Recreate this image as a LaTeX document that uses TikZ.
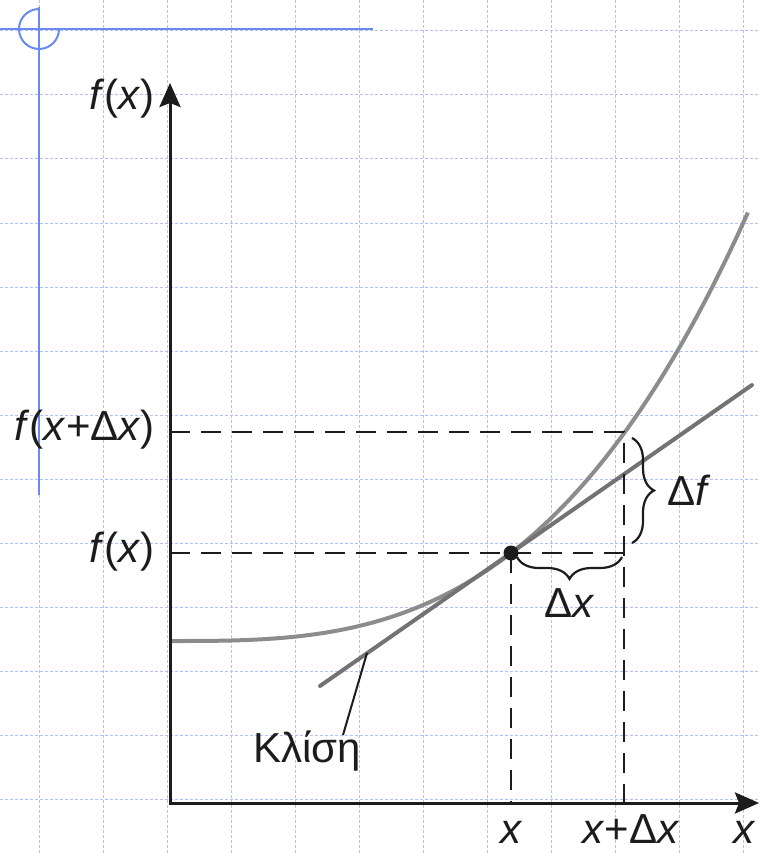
\documentclass[tikz,border=0pt]{standalone}
\usepackage{fontspec}
\setmainfont{Liberation Sans}
\usetikzlibrary{arrows.meta,decorations.pathreplacing}
\definecolor{gridc}{RGB}{178,192,248}
\definecolor{bluec}{RGB}{105,138,240}
\definecolor{axisc}{RGB}{28,28,28}
\definecolor{curvec}{RGB}{140,140,140}
\definecolor{tanc}{RGB}{115,115,115}
\newcommand{\vx}{\textit{x}}
\newcommand{\vf}{\textit{f}}
\begin{document}
\begin{tikzpicture}[x=1pt,y=-1pt,
  gridline/.style={gridc, line width=1pt, dash pattern=on 3pt off 2pt},
  blueline/.style={bluec, line width=2pt},
  axisline/.style={axisc, line width=3pt, {Stealth[length=24pt,width=21pt,inset=4pt]}-{Stealth[length=24pt,width=21pt,inset=4pt]}},
  guide/.style={axisc, line width=2.8pt, dash pattern=on 20pt off 11pt},
  curveline/.style={curvec, line width=4pt},
  tanline/.style={tanc, line width=4pt, line cap=round},
  leader/.style={axisc, line width=2pt},
  bracestyle/.style={axisc, line width=2.2pt, decorate, decoration={brace, amplitude=22pt}},
  lbl/.style={font=\fontsize{42}{50}\selectfont, text=axisc, inner sep=0pt}]
\useasboundingbox (0,0) rectangle (759,853);
% background grid
\foreach \i in {0,...,11} \draw[gridline] ({39+64*\i},0) -- ({39+64*\i},853);
\foreach \j in {0,...,12} \draw[gridline] (0,{31+64*\j}) -- (759,{31+64*\j});
% blue marks
\coordinate (bh1) at (0,29);
\coordinate (bh2) at (373,29);
\coordinate (bv1) at (39,7);
\coordinate (bv2) at (39,495);
\coordinate (btop) at (39,9);
\draw[blueline] (bh1) -- (bh2);
\draw[blueline] (bv1) -- (bv2);
\draw[blueline] (btop) arc[start angle=90, end angle=360, radius=20pt];
% key points
\coordinate (O) at (170,803);
\coordinate (ytip) at (170,83);
\coordinate (xtip) at (759,803);
\coordinate (P) at (511,553);
\coordinate (Q) at (624,432);
\coordinate (PQ) at (624,553);
\coordinate (Px) at (511,803);
\coordinate (Qx) at (624,803);
\coordinate (Py) at (170,553);
\coordinate (Qy) at (170,432);
\coordinate (T1) at (320,686);
\coordinate (T2) at (752,385);
% curve and tangent
\draw[curveline] plot[domain=0:5.78, samples=80, smooth] ({170+100*\x},{641-2.22*\x*\x*\x});
\draw[tanline] (T1) -- (T2);
% dashed guides
\draw[guide] (Qy) -- (Q) -- (Qx);
\draw[guide] (Py) -- (PQ);
\draw[guide] (P) -- (Px);
% axes
\draw[axisline] (ytip) -- (O) -- (xtip);
% point
\node[circle, fill=axisc, inner sep=0pt, minimum size=15pt] (dot) at (P) {};
% braces
\coordinate (bf1) at (632,438);
\coordinate (bf2) at (632,543);
\draw[bracestyle] (bf1) -- (bf2);
\coordinate (bx1) at (622,557);
\coordinate (bx2) at (517,557);
\draw[bracestyle] (bx1) -- (bx2);
% labels
\node[lbl, anchor=base west] (fy) at (89,110) {\vf(\vx)};
\node[lbl, anchor=base east] (fq) at (155,440) {\vf(\vx+Δ\vx)};
\node[lbl, anchor=base east] (fp) at (155,562) {\vf(\vx)};
\node[lbl, anchor=base] (xp) at (512,843) {\vx};
\node[lbl, anchor=base] (xq) at (631,843) {\vx+Δ\vx};
\node[lbl, anchor=base] (xa) at (745,843) {\vx};
\node[lbl, anchor=base west] (df) at (667,505) {Δ\vf};
\node[lbl, anchor=base] (dx) at (570,617) {Δ\vx};
\node[lbl, anchor=base west] (klisi) at (253,762) {Κλίση};
% leader
\coordinate (lead) at (343,735);
\coordinate (tanpt) at (367,653);
\draw[leader] (lead) -- (tanpt);
\end{tikzpicture}
\end{document}
